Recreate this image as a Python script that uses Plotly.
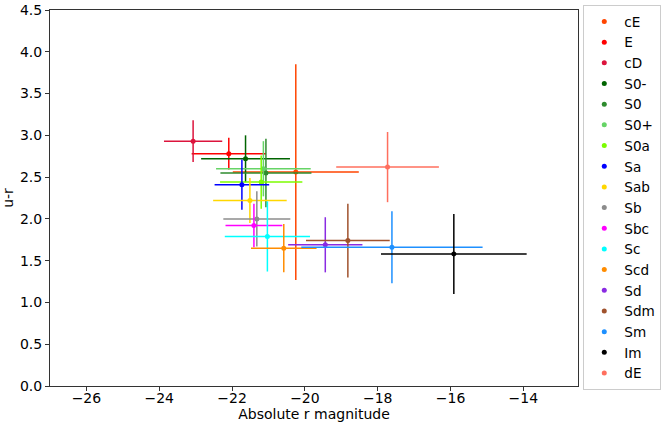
import plotly.graph_objects as go

classes = ["cE", "E", "cD", "S0-", "S0", "S0+", "S0a", "Sa", "Sab", "Sb",
           "Sbc", "Sc", "Scd", "Sd", "Sdm", "Sm", "Im", "dE"]
abs_r = [-20.25, -22.09, -23.07, -21.63, -21.07, -21.14, -21.20, -21.73, -21.51, -21.32,
         -21.40, -21.03, -20.58, -19.44, -18.82, -17.61, -15.91, -17.73]
abs_r_err = [1.73, 1.02, 0.80, 1.22, 1.25, 1.30, 1.13, 0.75, 1.01, 0.92,
             0.78, 1.17, 0.90, 1.02, 1.15, 2.49, 2.00, 1.41]
u_r = [2.56, 2.78, 2.93, 2.72, 2.55, 2.60, 2.44, 2.41, 2.22, 2.00,
       1.92, 1.79, 1.65, 1.69, 1.74, 1.66, 1.58, 2.62]
u_r_err = [1.29, 0.19, 0.25, 0.28, 0.41, 0.33, 0.32, 0.30, 0.27, 0.33,
           0.26, 0.42, 0.29, 0.33, 0.44, 0.43, 0.48, 0.42]
colors = ["#FF4500", "#FF0000", "#DC143C", "#006400", "#2E8B2E", "#66D466", "#7CFC00",
          "#0000FF", "#FFD700", "#8C8C8C", "#FF00FF", "#00FFFF", "#FF8C00", "#8A2BE2",
          "#A0522D", "#1E90FF", "#000000", "#FF6F5E"]

fig = go.Figure()
for name, x, xe, y, ye, c in zip(classes, abs_r, abs_r_err, u_r, u_r_err, colors):
    fig.add_trace(go.Scatter(
        x=[x], y=[y], mode="markers", name=name,
        marker=dict(color=c, size=5, symbol="circle"),
        error_x=dict(type="data", array=[xe], color=c, thickness=1.5, width=0),
        error_y=dict(type="data", array=[ye], color=c, thickness=1.5, width=0),
    ))

axis_common = dict(showline=True, linecolor="#333333", linewidth=1, mirror=True,
                   ticks="outside", ticklen=4, tickcolor="#333333", showgrid=False,
                   zeroline=False, automargin=False,
                   tickfont=dict(size=14, color="black"))
fig.update_layout(
    width=665, height=428,
    margin=dict(l=50, r=87, t=10, b=42, autoexpand=False),
    paper_bgcolor="white", plot_bgcolor="white",
    font=dict(family="DejaVu Sans", size=14, color="black"),
    xaxis=dict(range=[-27, -12.5], tickvals=[-26, -24, -22, -20, -18, -16, -14],
               ticklabelstandoff=-5,
               title=dict(text="Absolute r magnitude", font=dict(size=14), standoff=2),
               **axis_common),
    yaxis=dict(range=[0, 4.5], dtick=0.5, tickformat=".1f",
               title=dict(text="u-r", font=dict(size=14), standoff=4),
               **axis_common),
    legend=dict(x=1.01, y=1.013, xanchor="left", yanchor="top",
                bordercolor="#cccccc", borderwidth=1, font=dict(size=13.6),
                tracegroupgap=0, maxheight=428),
    showlegend=True,
)
fig.write_html("out.html", config={"displayModeBar": False},
               post_script="document.body.style.margin='0';")
